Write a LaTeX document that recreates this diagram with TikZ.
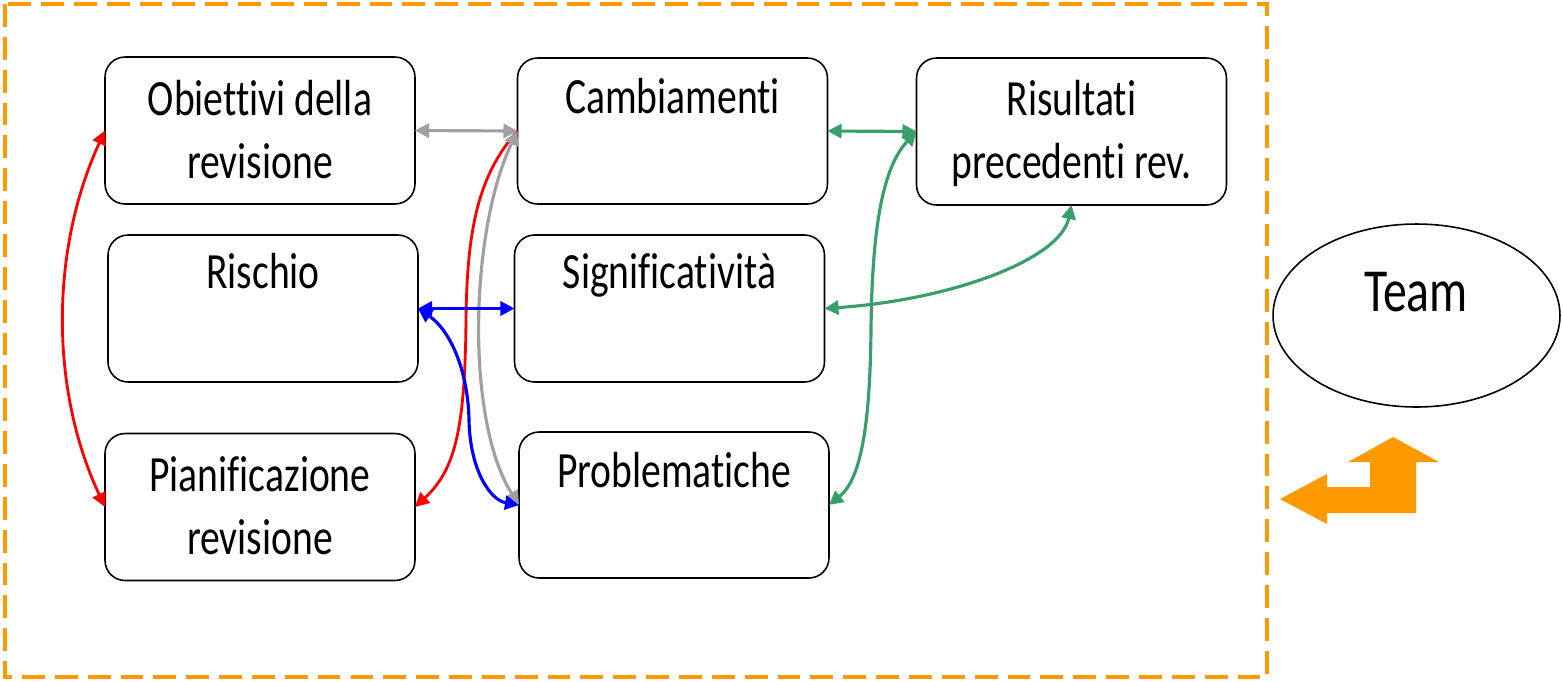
\documentclass[tikz,border=0pt]{standalone}
\usepackage{fontspec}
\newfontfamily\calib[FakeStretch=0.78,Ligatures=NoCommon]{Carlito}
\usetikzlibrary{arrows.meta,shapes.geometric}
\definecolor{orng}{RGB}{255,153,0}
\definecolor{grn}{RGB}{56,158,106}
\definecolor{gry}{RGB}{160,160,160}
\definecolor{blu}{RGB}{0,0,255}
\definecolor{rd}{RGB}{255,0,0}
\tikzset{
  box/.style={draw=black, line width=0.9pt, rounded corners=0.4cm, minimum width=6.2cm, minimum height=2.94cm, inner sep=0pt, outer sep=0pt, fill=white},
  txt/.style={anchor=base, inner sep=0pt, font=\calib\fontsize{28.9}{35.7}\selectfont},
  conn/.style={line width=1.8pt, {Triangle[length=8pt,width=8pt]}-{Triangle[length=8pt,width=8pt]}},
  connend/.style={line width=1.6pt, -{Triangle[length=8pt,width=8pt]}},
}
\begin{document}
\begin{tikzpicture}[x=0.02cm, y=-0.02cm]
\useasboundingbox (0,0) rectangle (1563,681);
% dashed frame
\draw[orng, line width=1.8pt, dash pattern=on 13pt off 5.7pt] (5,4) rectangle (1267,677);
% boxes
\node[box] (ob) at (260,130.5) {};
\node[box, minimum height=2.92cm] (ca) at (672.5,131) {};
\node[box] (ri) at (1071.5,131.5) {};
\node[box] (rs) at (263,308.5) {};
\node[box] (si) at (669.5,308.5) {};
\node[box] (pi) at (260,507) {};
\node[box, minimum height=2.92cm] (pr) at (674,505) {};
% texts
\node[txt] (ob1) at (260,115) {Obiettivi della};
\node[txt] (ob2) at (260,178) {revisione};
\node[txt] (ca1) at (672.5,113) {Cambiamenti};
\node[txt] (ri1) at (1071.5,115) {Risultati};
\node[txt] (ri2) at (1071.5,178) {precedenti rev.};
\node[txt] (rs1) at (263,288) {Rischio};
\node[txt] (si1) at (669.5,288) {Significatività};
\node[txt] (pi1) at (260,491) {Pianificazione};
\node[txt] (pi2) at (260,554) {revisione};
\node[txt] (pr1) at (674,487) {Problematiche};
% team
\node[draw=black, line width=0.9pt, ellipse, minimum width=5.74cm, minimum height=3.66cm, inner sep=0pt] (team) at (1416.5,315.5) {};
\node[anchor=base, inner sep=0pt, font=\calib\fontsize{34.8}{41}\selectfont] (teamtxt) at (1416,311) {Team};
% connectors
\draw[conn, rd, line width=1.6pt] (ob.west) .. controls (50,250) and (50,390) .. (pi.west);
\draw[connend, rd] (ca.west) .. controls (478,175) and (467,230) .. (466,320) .. controls (465,430) and (455,470) .. (pi.east);
\draw[conn, gry] (ca.west) .. controls (470,230) and (465,420) .. (pr.west);
\draw[conn, gry] (ob.east) -- (ca.west);
\draw[conn, blu] (rs.east) .. controls (450,330) and (468,370) .. (469,420) .. controls (470,470) and (490,500) .. (pr.west);
\draw[conn, blu] (rs.east) -- (si.west);
\draw[conn, grn] (ca.east) -- (ri.west);
\draw[conn, grn] (ri.west) .. controls (880,170) and (872,240) .. (871,330) .. controls (870,430) and (860,480) .. (pr.east);
\draw[conn, grn] (ri.south) .. controls (1060,260) and (950,300) .. (si.east);
% orange bent arrow
\fill[orng] (1280,499) -- (1327,474) -- (1327,487) -- (1370,487) -- (1370,462) -- (1348,462) -- (1393,437) -- (1439,462) -- (1416,462) -- (1416,513) -- (1327,513) -- (1327,524) -- cycle;
\end{tikzpicture}
\end{document}
